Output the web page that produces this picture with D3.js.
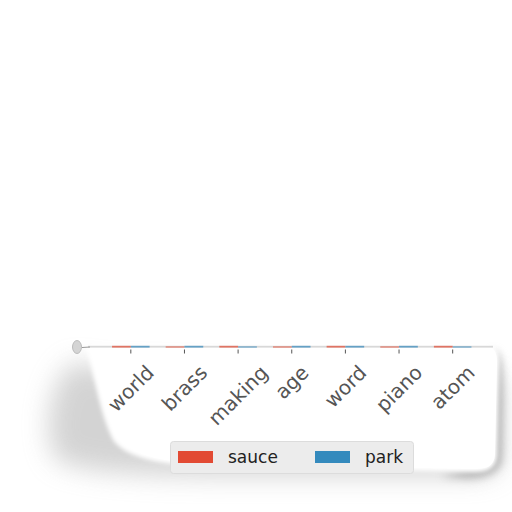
<!DOCTYPE html>
<html>
<head>
<meta charset="utf-8">
<script src="https://cdn.jsdelivr.net/npm/d3@7"></script>
<style>
  body { margin: 0; background: #fff; }
  svg { display: block; font-family: "DejaVu Sans", sans-serif; }
</style>
</head>
<body>
<svg id="chart" width="512" height="512"></svg>
<script>
// chart data
var categories = ["world", "brass", "making", "age", "word", "piano", "atom"];
var seriesNames = ["sauce", "park"];
var sauceValues = [3, 2, 3, 2, 3, 2, 3];
var parkValues = [3, 3, 2, 3, 3, 3, 2];
var seriesColors = ["#E24A33", "#348ABD"];

var svg = d3.select("#chart");
var defs = svg.append("defs");

function blur(id, sd) {
  defs.append("filter").attr("id", id).attr("x", "-50%").attr("y", "-50%")
      .attr("width", "200%").attr("height", "200%")
    .append("feGaussianBlur").attr("stdDeviation", sd);
}
blur("blurBig", 13);
blur("blurMid", 4);
blur("blurSmall", 2);

// soft shadow under the curled sheet
var shadow = svg.append("g");
shadow.append("path")
  .attr("d", "M75,362 C50,378 42,430 55,458 C80,478 200,476 300,476 L470,476 C490,476 500,470 500,460 L500,380 L95,368 Z")
  .attr("fill", "#b0b0b0").attr("opacity", 0.55).attr("filter", "url(#blurBig)");
shadow.append("path")
  .attr("d", "M492,350 C502,352 504,365 503,400 L502,460 C500,475 480,480 460,478 L440,476 L482,465 Z")
  .attr("fill", "#8a8a8a").attr("opacity", 0.55).attr("filter", "url(#blurMid)");

// the sheet itself
svg.append("path")
  .attr("d", "M85,346 L485,345 C496,345 499,352 499,362 L497,455 C496,468 488,472 475,472 L200,467 C150,463 125,456 113,440 C103,420 98,395 93,375 C90,360 87,352 85,346 Z")
  .attr("fill", "#fff").attr("filter", "url(#blurSmall)");
svg.append("path")
  .attr("d", "M88,347 L484,346 C494,346 497,352 497,362 L495,455 C494,466 487,469 475,469 L200,464 C155,461 132,453 120,440 C110,420 104,395 98,375 C95,360 91,352 88,347 Z")
  .attr("fill", "#fff");

// plot area (squashed to a thin strip)
var margin = { left: 88, right: 493, top: 345.8, bottom: 347.6 };
var x = d3.scaleBand().domain(categories)
  .range([104, 479.5]).paddingInner(0.3).paddingOuter(0.15);
var x1 = d3.scaleBand().domain(seriesNames).range([0, x.bandwidth()]);
var y = d3.scaleLinear()
  .domain([0, d3.max(sauceValues.concat(parkValues))])
  .range([margin.bottom, margin.top]);

svg.append("rect")
  .attr("x", margin.left).attr("y", margin.top)
  .attr("width", margin.right - margin.left).attr("height", margin.bottom - margin.top)
  .attr("fill", "#d8d8d8");

var rows = categories.map(function(c, i) {
  return { cat: c, vals: [sauceValues[i], parkValues[i]] };
});

var groups = svg.append("g").selectAll("g")
  .data(rows).enter().append("g")
  .attr("transform", function(d) { return "translate(" + x(d.cat) + ",0)"; });

groups.selectAll("rect")
  .data(function(d) {
    return d.vals.map(function(v, j) { return { name: seriesNames[j], value: v, color: seriesColors[j] }; });
  })
  .enter().append("rect")
  .attr("x", function(d) { return x1(d.name); })
  .attr("y", function(d) { return y(d.value); })
  .attr("width", x1.bandwidth())
  .attr("height", function(d) { return y(0) - y(d.value); })
  .attr("fill", function(d) { return d.color; })
  .attr("opacity", 0.7);

// squashed y-axis labels blob
svg.append("ellipse")
  .attr("cx", 77).attr("cy", 347).attr("rx", 4.5).attr("ry", 6.5)
  .attr("fill", "#d4d4d4").attr("stroke", "#b0b0b0").attr("stroke-width", 0.8);
svg.append("line")
  .attr("x1", 82).attr("x2", 90).attr("y1", 347.5).attr("y2", 347)
  .attr("stroke", "#999").attr("stroke-width", 1);

// x axis ticks and rotated labels
var fontSize = 20;
var tickG = svg.append("g");
categories.forEach(function(c) {
  var cx = x(c) + x.bandwidth() / 2;
  tickG.append("line")
    .attr("x1", cx).attr("x2", cx).attr("y1", 349.5).attr("y2", 353.5)
    .attr("stroke", "#555").attr("stroke-width", 1);
  var t = tickG.append("text")
    .text(c)
    .attr("font-size", fontSize)
    .attr("fill", "#555")
    .attr("text-anchor", "middle")
    .attr("dominant-baseline", "central");
  var len = t.node().getComputedTextLength();
  var h = fontSize * 0.85;
  var cy = 363 + (len + h) / (2 * Math.SQRT2);
  t.attr("x", cx).attr("y", cy)
    .attr("transform", "rotate(-45," + cx + "," + cy + ")");
});

// legend
var legend = svg.append("g");
legend.append("rect")
  .attr("x", 170.5).attr("y", 441.5).attr("width", 243).attr("height", 32)
  .attr("rx", 3).attr("fill", "#ececec").attr("stroke", "#dcdcdc");
var legendX = [178, 315];
seriesNames.forEach(function(name, i) {
  legend.append("rect")
    .attr("x", legendX[i]).attr("y", 451).attr("width", 35).attr("height", 12)
    .attr("fill", seriesColors[i]);
  legend.append("text")
    .attr("x", legendX[i] + 50).attr("y", 463)
    .attr("font-size", 17).attr("fill", "#222")
    .text(name);
});
</script>
</body>
</html>
